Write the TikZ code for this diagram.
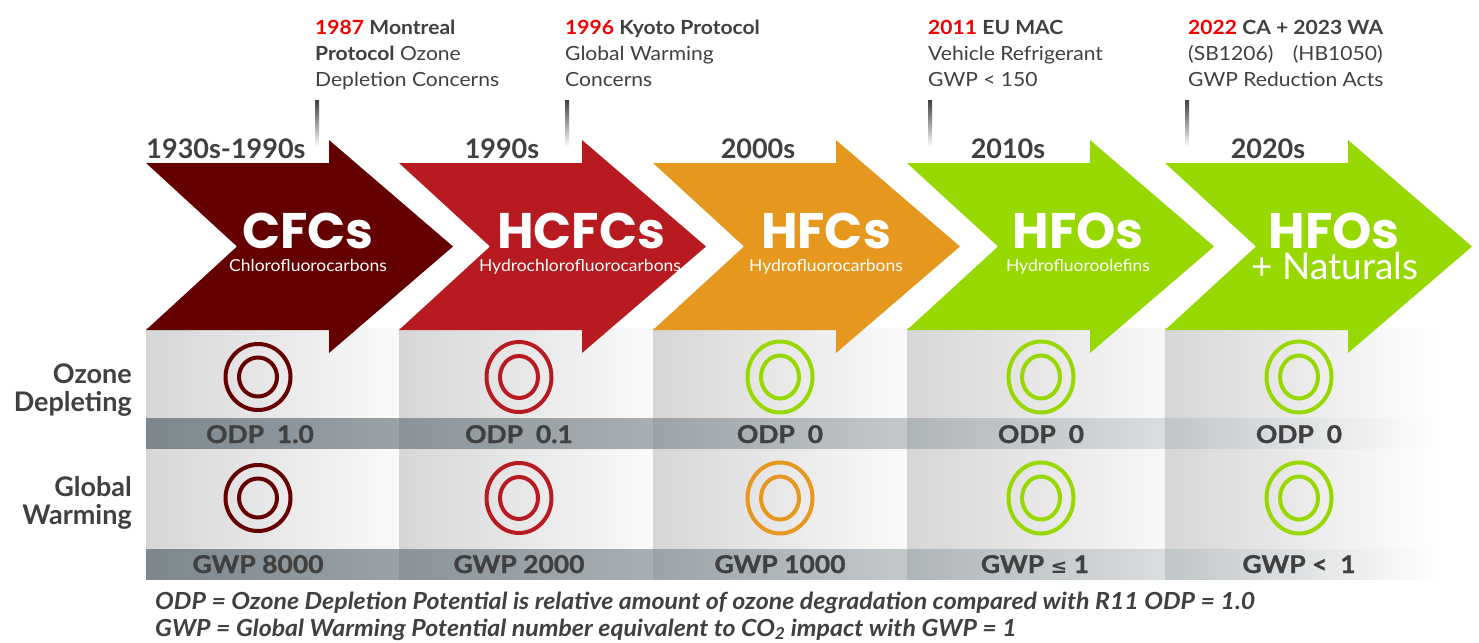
\documentclass[tikz,border=0pt]{standalone}
\usepackage{fontspec}
\setmainfont{Lato}
\newfontfamily\headfont{Poppins}
\newfontfamily\eventfont{Lato}[FakeStretch=1.08]
\newfontfamily\namefont{Lato}[FakeStretch=1.06]
\newfontfamily\notefont{Lato}[FakeStretch=1.06]
\newfontfamily\heavyfont{Lato}[FakeStretch=1.08, BoldFeatures={FakeBold=1.2}]
\newfontfamily\symfont{DejaVu Sans}

\definecolor{cfc}{HTML}{650000}
\definecolor{hcfc}{HTML}{B71A1F}
\definecolor{hfc}{HTML}{E6981E}
\definecolor{hfo}{HTML}{96D800}
\definecolor{ink}{HTML}{404040}
\definecolor{datered}{HTML}{F20000}
\definecolor{bandgray}{HTML}{78838A}

\tikzset{
  era/.style={font=\fontsize{27}{27}\selectfont\bfseries, text=ink, anchor=base, inner sep=0pt},
  group/.style={font=\headfont\fontsize{50}{50}\selectfont\bfseries, text=white, anchor=base, inner sep=0pt, text depth=0pt},
  gname/.style={font=\namefont\fontsize{16.5}{17}\selectfont, text=white, anchor=base, inner sep=0pt},
  value/.style={font=\heavyfont\fontsize{24.5}{24.5}\selectfont\bfseries, text=ink, anchor=base, inner sep=0pt},
  rowlabel/.style={font=\fontsize{27}{28}\selectfont\bfseries, text=ink, anchor=base east, inner sep=0pt},
  event/.style={font=\eventfont\fontsize{19.5}{26}\selectfont, text=ink, align=left, anchor=north west, inner sep=0pt},
  note/.style={font=\notefont\fontsize{23.5}{23.5}\selectfont\bfseries\itshape, text=ink, anchor=base west, inner sep=0pt},
  ring/.style={line width=4pt},
}

\begin{document}
\begin{tikzpicture}[x=1pt,y=-1pt]
\useasboundingbox (0,0) rectangle (1479,642);
\fill[white] (0,0) rectangle (1479,642);

% gray table behind the rings, one panel per column
\foreach \L/\R/\pl/\pr/\bl/\br in {146/399/16/2/97/75, 399/653/16/2/87/64, 653/907/16/2/74/44, 907/1165/16/3/60/27, 1165/1440/16/0/47/0} {
  \shade[left color=black!\pl, right color=black!\pr] (\L,328) rectangle (\R,579);
  \shade[left color=bandgray!\bl, right color=bandgray!\br] (\L,418) rectangle (\R,448);
  \shade[left color=bandgray!\bl, right color=bandgray!\br] (\L,549) rectangle (\R,579);
}

% the five chevron arrows
\foreach \L/\col in {146/cfc, 399/hcfc, 653/hfc, 907/hfo, 1165/hfo} {
  \fill[\col] (\L,163) -- ({\L+183},163) -- ({\L+183},140) -- ({\L+307},246.5)
    -- ({\L+183},353) -- ({\L+183},330) -- (\L,330) -- ({\L+91},246.5) -- cycle;
}

% rings: ozone row, then warming row
\foreach \cx/\ctop/\cbot/\ry/\iy in {258/cfc/cfc/33/19.5, 519/hcfc/hcfc/35/21, 780/hfo/hfc/35.5/21.5, 1041/hfo/hfo/35.5/21.5, 1299/hfo/hfo/35.5/21.5} {
  \draw[ring, \ctop] (\cx,377) ellipse (32.5 and \ry);
  \draw[ring, \ctop] (\cx,377) ellipse (19 and \iy);
  \draw[ring, \cbot] (\cx,498) ellipse (32.5 and \ry);
  \draw[ring, \cbot] (\cx,498) ellipse (19 and \iy);
}

% decades
\node[era] (d1) at (226,158) {1930s-1990s};
\node[era] (d2) at (502,158) {1990s};
\node[era] (d3) at (758,158) {2000s};
\node[era] (d4) at (1008,158) {2010s};
\node[era] (d5) at (1268,158) {2020s};

% refrigerant groups
\node[group] (cfcs) at (308,248) {CFCs};
\node[gname] (cfcsub) at (308,271) {Chlorofluorocarbons};
\node[group] (hcfcs) at (581,248) {HCFCs};
\node[gname] (hcfcsub) at (580,271) {Hydrochlorofluorocarbons};
\node[group] (hfcs) at (826,248) {HFCs};
\node[gname] (hfcsub) at (826,271) {Hydrofluorocarbons};
\node[group] (hfos) at (1078,248) {HFOs};
\node[gname] (hfosub) at (1078,271) {Hydrofluoroolefins};
\node[group] (hfosn) at (1334,248) {HFOs};
\node[gname, font=\fontsize{37}{37}\selectfont] (natsub) at (1335,279) {+ Naturals};

% row captions
\node[rowlabel] (oz1) at (132,383) {Ozone};
\node[rowlabel] (oz2) at (132,411) {Depleting};
\node[rowlabel] (gw1) at (132,496) {Global};
\node[rowlabel] (gw2) at (132,524) {Warming};

% ODP / GWP values
\node[value] (odp1) at (260,443) {ODP\ \ 1.0};
\node[value] (odp2) at (519,443) {ODP\ \ 0.1};
\node[value] (odp3) at (780,443) {ODP\ \ 0};
\node[value] (odp4) at (1041,443) {ODP\ \ 0};
\node[value] (odp5) at (1299,443) {ODP\ \ 0};
\node[value] (gwp1) at (258,573) {GWP 8000};
\node[value] (gwp2) at (519,573) {GWP 2000};
\node[value] (gwp3) at (780,573) {GWP 1000};
\node[value] (gwp4) at (1035,573) {GWP {\symfont\bfseries\fontsize{20}{20}\selectfont≤} 1};
\node[value] (gwp5) at (1299,573) {GWP <\ \ 1};

% policy milestones
\foreach \tx in {317,567,930,1187}
  \shade[top color=ink, bottom color=white] ({\tx-2},100) rectangle ({\tx+2},147);
\node[event] (montreal) at (315,20) {\textcolor{datered}{\bfseries 1987} \textbf{Montreal}\\ \textbf{Protocol} Ozone\\ Depletion Concerns};
\node[event] (kyoto) at (565,20) {\textcolor{datered}{\bfseries 1996} \textbf{Kyoto Protocol}\\ Global Warming\\ Concerns};
\node[event] (eumac) at (928,20) {\textcolor{datered}{\bfseries 2011} \textbf{EU MAC}\\ Vehicle Refrigerant\\ GWP < 150};
\node[event] (cawa) at (1188,20) {\textcolor{datered}{\bfseries 2022} \textbf{CA + 2023 WA}\\ (SB1206)\quad(HB1050)\\ GWP Reduction Acts};

% footnotes
\node[note] (odpnote) at (155,609) {ODP = Ozone Depletion Potential is relative amount of ozone degradation compared with R11 ODP = 1.0};
\node[note] (gwpnote) at (155,636) {GWP = Global Warming Potential number equivalent to CO\textsubscript{2} impact with GWP = 1};
\end{tikzpicture}
\end{document}
